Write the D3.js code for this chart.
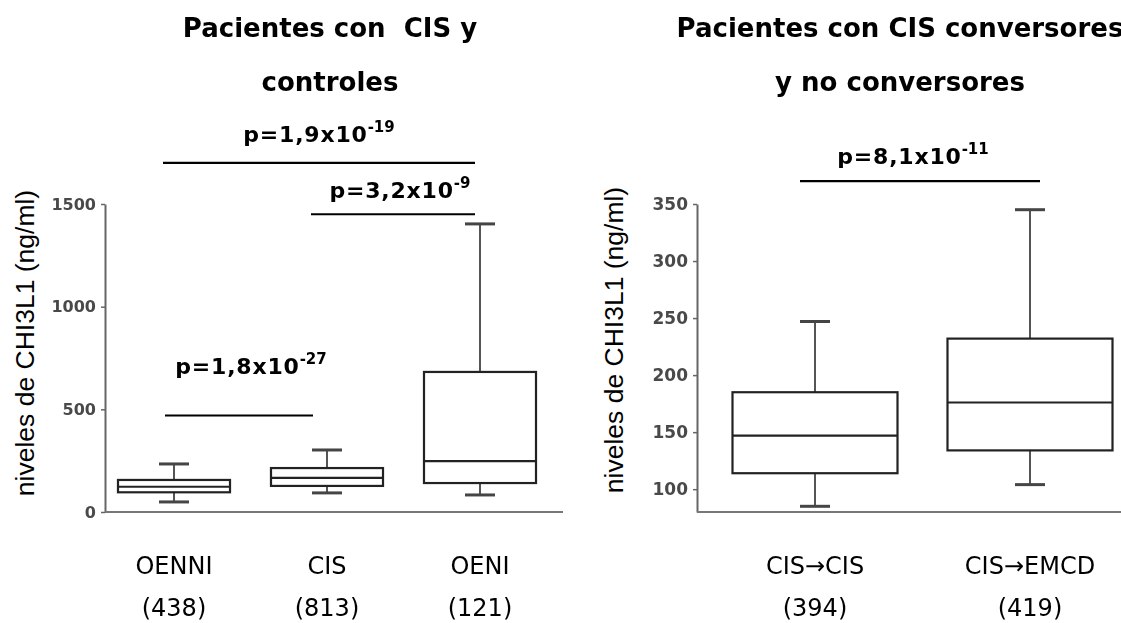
<!DOCTYPE html>
<html>
<head>
<meta charset="utf-8">
<script src="https://cdn.jsdelivr.net/npm/d3@7"></script>
<style>
  html, body { margin: 0; padding: 0; background: #fff; overflow: hidden; }
  svg { display: block; }
  .title { font-family: "DejaVu Sans", sans-serif; font-weight: bold; font-size: 26px; fill: #000; }
  .pval { font-family: "DejaVu Sans", sans-serif; font-weight: bold; font-size: 22px; letter-spacing: 0.8px; fill: #000; }
  .ylabel { font-family: "Liberation Sans", Arial, sans-serif; font-size: 26.5px; fill: #000; }
  .cat { font-family: "DejaVu Sans", sans-serif; font-size: 24px; fill: #000; }
  .tick text { font-family: "DejaVu Sans", sans-serif; font-weight: bold; fill: #4a4a4a; }
</style>
</head>
<body>
<svg id="chart" width="1121" height="623"></svg>
<script>
// ---- Panel A: CIS patients and controls ----
const leftCategories = ["OENNI", "CIS", "OENI"];
const leftCounts = ["(438)", "(813)", "(121)"];
const leftLow = [49, 93, 83];
const leftQ1 = [96, 127, 141];
const leftMedian = [123, 166, 248];
const leftQ3 = [156, 214, 682];
const leftHigh = [234, 302, 1403];
const leftTicks = [0, 500, 1000, 1500];
const leftPairs = [["OENNI", "OENI"], ["CIS", "OENI"], ["OENNI", "CIS"]];
const leftPMantissa = ["1,9", "3,2", "1,8"];
const leftPExponent = ["-19", "-9", "-27"];
const leftPLevel = [1700, 1450, 470];

// ---- Panel B: CIS converters vs non-converters ----
const rightCategories = ["CIS\u2192CIS", "CIS\u2192EMCD"];
const rightCounts = ["(394)", "(419)"];
const rightLow = [85, 104];
const rightQ1 = [114, 134];
const rightMedian = [147, 176];
const rightQ3 = [185, 232];
const rightHigh = [247, 345];
const rightTicks = [100, 150, 200, 250, 300, 350];
const rightPairs = [["CIS\u2192CIS", "CIS\u2192EMCD"]];
const rightPMantissa = ["8,1"];
const rightPExponent = ["-11"];
const rightPLevel = [370];

const svg = d3.select("#chart");
const defs = svg.append("defs");
defs.append("filter").attr("id", "soft")
  .attr("x", "-5%").attr("y", "-5%").attr("width", "110%").attr("height", "110%")
  .append("feGaussianBlur").attr("stdDeviation", 0.55);

function drawPanel(cfg) {
  const g = svg.append("g");
  const plot = g.append("g").attr("filter", "url(#soft)");

  const y = d3.scaleLinear().domain(cfg.yDomain).range([cfg.bottom, cfg.top]);
  const x = d3.scalePoint().domain(cfg.categories).range(cfg.xCenters);

  // y axis
  const yAxis = plot.append("g")
    .attr("transform", `translate(${cfg.axisX},0)`)
    .call(d3.axisLeft(y).tickValues(cfg.ticks).tickFormat(d3.format("d"))
      .tickSize(4).tickSizeOuter(0).tickPadding(5));
  yAxis.select(".domain").attr("stroke", "#666").attr("stroke-width", 2);
  yAxis.selectAll(".tick line").attr("stroke", "#666").attr("stroke-width", 1.5);
  yAxis.selectAll(".tick text").attr("font-size", cfg.tickFont);

  // x baseline
  plot.append("line")
    .attr("x1", cfg.axisX).attr("x2", cfg.axisEnd)
    .attr("y1", cfg.bottom).attr("y2", cfg.bottom)
    .attr("stroke", "#777").attr("stroke-width", 2.2);

  const rows = cfg.categories.map((c, i) => ({
    cat: c, low: cfg.low[i], q1: cfg.q1[i], med: cfg.median[i], q3: cfg.q3[i], high: cfg.high[i]
  }));
  const bw = cfg.boxWidth, cap = 30;

  const box = plot.selectAll("g.box").data(rows).join("g").attr("class", "box");
  // whiskers
  box.append("line")
    .attr("x1", d => x(d.cat)).attr("x2", d => x(d.cat))
    .attr("y1", d => y(d.high)).attr("y2", d => y(d.q3))
    .attr("stroke", "#555").attr("stroke-width", 2);
  box.append("line")
    .attr("x1", d => x(d.cat)).attr("x2", d => x(d.cat))
    .attr("y1", d => y(d.q1)).attr("y2", d => y(d.low))
    .attr("stroke", "#555").attr("stroke-width", 2);
  // caps
  box.append("line")
    .attr("x1", d => x(d.cat) - cap / 2).attr("x2", d => x(d.cat) + cap / 2)
    .attr("y1", d => y(d.high)).attr("y2", d => y(d.high))
    .attr("stroke", "#444").attr("stroke-width", 3);
  box.append("line")
    .attr("x1", d => x(d.cat) - cap / 2).attr("x2", d => x(d.cat) + cap / 2)
    .attr("y1", d => y(d.low)).attr("y2", d => y(d.low))
    .attr("stroke", "#444").attr("stroke-width", 3);
  // box
  box.append("rect")
    .attr("x", d => x(d.cat) - bw / 2).attr("width", bw)
    .attr("y", d => y(d.q3)).attr("height", d => y(d.q1) - y(d.q3))
    .attr("fill", "#fff").attr("stroke", "#222").attr("stroke-width", 2.2);
  // median
  box.append("line")
    .attr("x1", d => x(d.cat) - bw / 2).attr("x2", d => x(d.cat) + bw / 2)
    .attr("y1", d => y(d.med)).attr("y2", d => y(d.med))
    .attr("stroke", "#222").attr("stroke-width", 2.2);

  // y axis title
  g.append("text").attr("class", "ylabel")
    .attr("transform", `translate(${cfg.labelX},${cfg.labelY}) rotate(-90)`)
    .attr("text-anchor", "middle")
    .text("niveles de CHI3L1 (ng/ml)");

  // category names and counts
  g.selectAll("text.catname").data(cfg.categories).join("text")
    .attr("class", "cat catname")
    .attr("x", d => x(d)).attr("y", 574)
    .attr("text-anchor", "middle").text(d => d);
  g.selectAll("text.count").data(cfg.counts).join("text")
    .attr("class", "cat count")
    .attr("x", (d, i) => x(cfg.categories[i])).attr("y", 616)
    .attr("text-anchor", "middle").text(d => d);

  // titles
  cfg.title.forEach((t, i) => {
    g.append("text").attr("class", "title")
      .attr("x", cfg.titleX).attr("y", 37 + i * 54)
      .attr("text-anchor", "middle")
      .attr("xml:space", "preserve")
      .text(t);
  });

  // significance brackets
  cfg.pairs.forEach((p, i) => {
    const x1 = x(p[0]) - cfg.lineLeft[i];
    const x2 = x(p[1]) + cfg.lineRight[i];
    const ly = y(cfg.pLevel[i]);
    g.append("line")
      .attr("x1", x1).attr("x2", x2).attr("y1", ly).attr("y2", ly)
      .attr("stroke", "#000").attr("stroke-width", 2.2);
    const t = g.append("text").attr("class", "pval")
      .attr("x", (x1 + x2) / 2 + cfg.textShift[i])
      .attr("y", ly - cfg.textGap[i])
      .attr("text-anchor", "middle");
    t.append("tspan").text("p=" + cfg.mant[i] + "x10");
    t.append("tspan").attr("dy", -10).attr("font-size", 15).attr("letter-spacing", 0).text(cfg.exp[i]);
  });
}

drawPanel({
  categories: leftCategories, counts: leftCounts,
  low: leftLow, q1: leftQ1, median: leftMedian, q3: leftQ3, high: leftHigh,
  ticks: leftTicks, yDomain: [0, 1500], top: 204, bottom: 512,
  xCenters: [174, 480], axisX: 105, axisEnd: 563, boxWidth: 112, tickFont: 16,
  labelX: 34, labelY: 343,
  title: ["Pacientes con  CIS y", "controles"], titleX: 330,
  pairs: leftPairs, mant: leftPMantissa, exp: leftPExponent, pLevel: leftPLevel,
  lineLeft: [11, 16, 9], lineRight: [-5, -5, -14],
  textShift: [0, 7, 12], textGap: [21, 16, 41]
});

drawPanel({
  categories: rightCategories, counts: rightCounts,
  low: rightLow, q1: rightQ1, median: rightMedian, q3: rightQ3, high: rightHigh,
  ticks: rightTicks, yDomain: [80, 350], top: 204, bottom: 512,
  xCenters: [815, 1030], axisX: 697, axisEnd: 1121, boxWidth: 165, tickFont: 17,
  labelX: 623, labelY: 340,
  title: ["Pacientes con CIS conversores", "y no conversores"], titleX: 900,
  pairs: rightPairs, mant: rightPMantissa, exp: rightPExponent, pLevel: rightPLevel,
  lineLeft: [15], lineRight: [10],
  textShift: [-7], textGap: [17]
});
</script>
</body>
</html>
